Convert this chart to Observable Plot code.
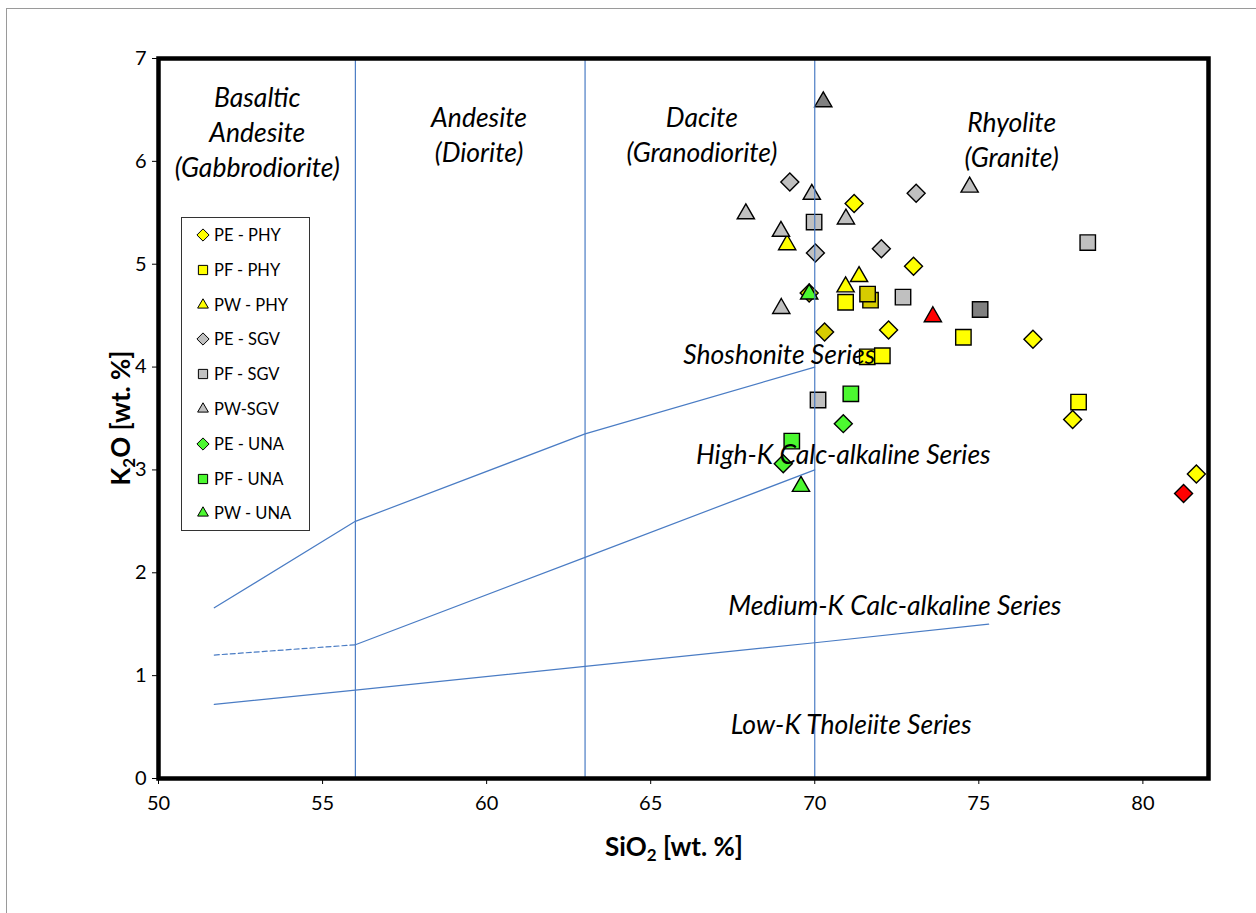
<!DOCTYPE html>
<html>
<head>
<meta charset="utf-8">
<script src="https://cdn.jsdelivr.net/npm/d3@7"></script>
<script src="https://cdn.jsdelivr.net/npm/@observablehq/plot@0.6"></script>
<style>
  html, body { margin: 0; padding: 0; background: #fff; overflow: hidden; }
  #wrap { position: relative; width: 1256px; height: 913px; font-family: Lato, "Open Sans", sans-serif; }
  #outer { position: absolute; left: 6px; top: 8px; width: 1300px; height: 1000px; border: 1px solid #9a9a9a; box-sizing: border-box; }
  #chart { position: absolute; left: 0; top: 0; }
  .axlabel { position: absolute; font-weight: bold; font-size: 26px; white-space: nowrap; color: #000; line-height: 1.0; }
  .axlabel sub { font-size: 17px; vertical-align: -5px; line-height: 0; }
  #legend { position: absolute; left: 181px; top: 217px; width: 129px; height: 314px; border: 1px solid #333; box-sizing: border-box; background: #fff; }
  .lrow { position: absolute; left: 0; height: 20px; display: flex; align-items: center; font-size: 16.5px; white-space: nowrap; }
  .lrow svg { margin-left: 14px; margin-right: 4px; }
</style>
</head>
<body>
<div id="wrap">
  <div id="outer"></div>
  <div id="chart"></div>
  <div class="axlabel" id="xlab">SiO<sub>2</sub> [wt. %]</div>
  <div class="axlabel" id="ylab">K<sub>2</sub>O [wt. %]</div>
  <div id="legend"></div>
</div>
<script>
// ---------- data ----------
const xTicks = [50, 55, 60, 65, 70, 75, 80];
const yTicks = [0, 1, 2, 3, 4, 5, 6, 7];

const legendGroups = ["PE - PHY", "PF - PHY", "PW - PHY", "PE - SGV", "PF - SGV", "PW-SGV", "PE - UNA", "PF - UNA", "PW - UNA"];

// sample points: SiO2, K2O, group, tone (base / dark / red)
const sio2 = [
  71.20, 73.01, 72.25, 76.65, 77.86, 81.63, 70.30, 69.83, 81.24,
  70.94, 71.60, 72.06, 74.53, 78.04, 71.70, 71.61,
  69.16, 70.94, 71.35, 73.60,
  69.24, 70.02, 72.03, 73.09,
  69.98, 72.69, 78.32, 70.10, 75.04,
  67.90, 68.97, 68.98, 69.91, 70.95, 74.72, 70.26,
  70.87, 69.04,
  71.10, 69.30,
  69.83, 69.58
];
const k2o = [
  5.59, 4.98, 4.36, 4.27, 3.49, 2.96, 4.34, 4.72, 2.77,
  4.63, 4.10, 4.11, 4.29, 3.66, 4.65, 4.71,
  5.18, 4.77, 4.87, 4.48,
  5.80, 5.11, 5.15, 5.69,
  5.41, 4.68, 5.21, 3.68, 4.56,
  5.48, 5.31, 4.56, 5.67, 5.43, 5.74, 6.57,
  3.45, 3.06,
  3.74, 3.28,
  4.70, 2.83
];
const group = [
  "PE - PHY", "PE - PHY", "PE - PHY", "PE - PHY", "PE - PHY", "PE - PHY", "PE - PHY", "PE - PHY", "PE - PHY",
  "PF - PHY", "PF - PHY", "PF - PHY", "PF - PHY", "PF - PHY", "PF - PHY", "PF - PHY",
  "PW - PHY", "PW - PHY", "PW - PHY", "PW - PHY",
  "PE - SGV", "PE - SGV", "PE - SGV", "PE - SGV",
  "PF - SGV", "PF - SGV", "PF - SGV", "PF - SGV", "PF - SGV",
  "PW-SGV", "PW-SGV", "PW-SGV", "PW-SGV", "PW-SGV", "PW-SGV", "PW-SGV",
  "PE - UNA", "PE - UNA",
  "PF - UNA", "PF - UNA",
  "PW - UNA", "PW - UNA"
];
const tone = [
  "base", "base", "base", "base", "base", "base", "dark", "dark", "red",
  "base", "base", "base", "base", "base", "dark", "dark",
  "base", "base", "base", "red",
  "base", "base", "base", "base",
  "base", "base", "base", "base", "dark",
  "base", "base", "base", "base", "base", "base", "dark",
  "base", "base",
  "base", "base",
  "base", "base"
];

// field boundary lines (SiO2, K2O)
const shoX = [51.7, 56, 63, 70];
const shoY = [1.66, 2.50, 3.35, 4.00];
const highKX = [56, 63, 70];
const highKY = [1.30, 2.15, 3.00];
const highKDashX = [51.7, 56];
const highKDashY = [1.20, 1.30];
const lowX = [51.7, 56, 63, 70, 75.3];
const lowY = [0.72, 0.86, 1.09, 1.32, 1.50];
const rockDividers = [56, 63, 70];

// field labels
const fieldText = ["Basaltic\nAndesite\n(Gabbrodiorite)", "Andesite\n(Diorite)", "Dacite\n(Granodiorite)", "Rhyolite\n(Granite)",
  "Shoshonite Series", "High-K Calc-alkaline Series", "Medium-K Calc-alkaline Series", "Low-K Tholeiite Series"];
const fieldX = [53.01, 59.77, 66.56, 76.0, 68.92, 70.87, 72.44, 71.11];
const fieldY = [6.30, 6.27, 6.27, 6.22, 4.14, 3.17, 1.70, 0.54];

// ---------- build ----------
const pts = sio2.map((x, i) => ({x, y: k2o[i], group: group[i], tone: tone[i]}));
const fills = {PHY: {base: "#FFFF00", dark: "#D6CC00", red: "#FF0000"}, SGV: {base: "#C0C0C0", dark: "#808080", red: "#FF0000"}, UNA: {base: "#4CF830", dark: "#3AC020", red: "#FF0000"}};
const fillOf = d => fills[d.group.slice(-3)][d.tone];
const shapeOf = g => g.startsWith("PE") ? "diamond2" : g.startsWith("PF") ? "square" : "triangle";
const toLine = (xs, ys) => xs.map((x, i) => ({x, y: ys[i]}));
const fields = fieldText.map((t, i) => ({t, x: fieldX[i], y: fieldY[i]}));
const blue = "#4A7CC4";

const dotStyle = {x: "x", y: "y", fill: fillOf, stroke: "#000", strokeWidth: 1.4};
const chart = Plot.plot({
  width: 1256, height: 913,
  marginLeft: 158, marginRight: 48, marginTop: 58, marginBottom: 135,
  style: {fontFamily: "Lato, 'Open Sans', sans-serif", background: "transparent", color: "#000"},
  x: {domain: [50, 82]},
  y: {domain: [0, 7]},
  marks: [
    Plot.dot(pts.filter(d => shapeOf(d.group) === "diamond2"), {...dotStyle, symbol: "diamond2", r: 8.1}),
    Plot.dot(pts.filter(d => shapeOf(d.group) === "square"), {...dotStyle, symbol: "square", r: 8.7}),
    Plot.dot(pts.filter(d => shapeOf(d.group) === "triangle"), {...dotStyle, symbol: "triangle", r: 6.4, dy: -1}),
    Plot.ruleX(rockDividers, {stroke: blue, strokeWidth: 1.2}),
    Plot.line(toLine(shoX, shoY), {x: "x", y: "y", stroke: blue, strokeWidth: 1.2}),
    Plot.line(toLine(highKX, highKY), {x: "x", y: "y", stroke: blue, strokeWidth: 1.2}),
    Plot.line(toLine(highKDashX, highKDashY), {x: "x", y: "y", stroke: blue, strokeWidth: 1.2, strokeDasharray: "5,3"}),
    Plot.line(toLine(lowX, lowY), {x: "x", y: "y", stroke: blue, strokeWidth: 1.2}),
    Plot.text(fields, {x: "x", y: "y", text: "t", fontSize: 26.5, fontStyle: "italic", lineHeight: 1.32, lineAnchor: "middle", textAnchor: "middle", fill: "#000"}),
    Plot.axisX({ticks: xTicks, tickFormat: d3.format("d"), tickSize: 6, tickPadding: 11, fontSize: 20, label: null, stroke: "#000"}),
    Plot.axisY({ticks: yTicks, tickFormat: d3.format("d"), tickSize: 6, tickPadding: 6, fontSize: 20, label: null, stroke: "#000"}),
    Plot.frame({stroke: "#000", strokeWidth: 4.5})
  ]
});
document.getElementById("chart").appendChild(chart);

// axis labels
const xl = document.getElementById("xlab");
const xr = xl.getBoundingClientRect();
xl.style.left = (674 - xr.width / 2) + "px";
xl.style.top = (846 - xr.height / 2) + "px";
const yl = document.getElementById("ylab");
const yr = yl.getBoundingClientRect();
yl.style.left = (120 - yr.width / 2) + "px";
yl.style.top = (418 - yr.height / 2) + "px";
yl.style.transform = "rotate(-90deg)";

// legend
const leg = document.getElementById("legend");
const legSym = {diamond2: d3.symbol(d3.symbolDiamond2, 95), square: d3.symbol(d3.symbolSquare, 85), triangle: d3.symbol(d3.symbolTriangle, 50)};
legendGroups.forEach((g, i) => {
  const row = document.createElement("div");
  row.className = "lrow";
  row.style.top = (7 + i * 34.8) + "px";
  const s = shapeOf(g);
  const col = fills[g.slice(-3)].base;
  row.innerHTML = `<svg width="14" height="14" viewBox="-7 -7 14 14"><path d="${legSym[s]()}" fill="${col}" stroke="#000" stroke-width="1"/></svg><span>${g}</span>`;
  leg.appendChild(row);
});
</script>
</body>
</html>
